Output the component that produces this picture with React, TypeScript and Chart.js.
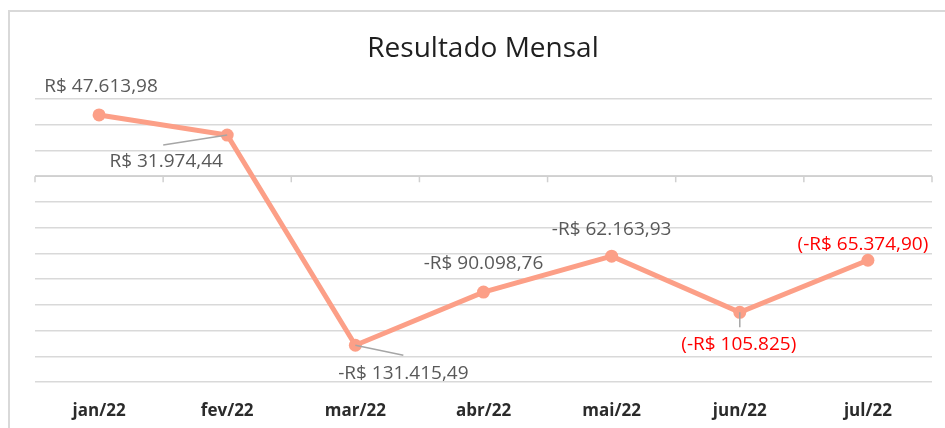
import React, { useEffect, useRef } from "react";
import { Chart, registerables } from "chart.js";

Chart.register(...registerables);

const chartTitle = "Resultado Mensal";
const categories = ["jan/22", "fev/22", "mar/22", "abr/22", "mai/22", "jun/22", "jul/22"];
const resultado = [47613.98, 31974.44, -131415.49, -90098.76, -62163.93, -105825, -65374.9];
const dataLabels = [
  "R$ 47.613,98",
  "R$ 31.974,44",
  "-R$ 131.415,49",
  "-R$ 90.098,76",
  "-R$ 62.163,93",
  "(-R$ 105.825)",
  "(-R$ 65.374,90)",
];
const labelRed = [false, false, false, false, false, true, true];
const yMin = -160000;
const yMax = 60000;
const yStep = 20000;

// placement of data labels relative to their point (style only)
const labelOffsets: [number, number][] = [
  [2, -28],
  [-61, 27],
  [48, 28],
  [0, -28],
  [0, -27],
  [-1, 32],
  [-5, -16],
];
const leaderEnds: ([number, number] | null)[] = [
  null,
  [-64, 10],
  [48, 10],
  null,
  null,
  [0, 15],
  null,
];

const FONT = '"Open Sans", "Liberation Sans", sans-serif';
const LINE_COLOR = "#fc9f87";

const decorPlugin = {
  id: "decor",
  beforeDraw(chart: any) {
    const ctx = chart.ctx;
    ctx.save();
    ctx.fillStyle = "#ffffff";
    ctx.fillRect(0, 0, chart.width, chart.height);
    ctx.strokeStyle = "#d9d9d9";
    ctx.lineWidth = 2;
    ctx.strokeRect(9, 11, chart.width + 50, chart.height + 50);
    ctx.fillStyle = "#1f1f1f";
    ctx.font = `28px ${FONT}`;
    ctx.textAlign = "center";
    ctx.textBaseline = "middle";
    ctx.fillText(chartTitle, 483, 49);
    ctx.restore();
  },
  beforeDatasetsDraw(chart: any) {
    const ctx = chart.ctx;
    const { left, right } = chart.chartArea;
    const y0 = chart.scales.y.getPixelForValue(0);
    const x = chart.scales.x;
    ctx.save();
    ctx.strokeStyle = "#d0d0d0";
    ctx.lineWidth = 1.5;
    ctx.beginPath();
    ctx.moveTo(left, y0);
    ctx.lineTo(right, y0);
    const n = categories.length;
    const half = (x.getPixelForValue(1) - x.getPixelForValue(0)) / 2;
    for (let i = 0; i <= n; i++) {
      const bx = i < n ? x.getPixelForValue(i) - half : right;
      ctx.moveTo(bx, y0);
      ctx.lineTo(bx, y0 + 6);
    }
    ctx.stroke();
    ctx.restore();
  },
  afterDatasetsDraw(chart: any) {
    const ctx = chart.ctx;
    const meta = chart.getDatasetMeta(0);
    ctx.save();
    meta.data.forEach((pt: any, i: number) => {
      const le = leaderEnds[i];
      if (le) {
        ctx.strokeStyle = "#a6a6a6";
        ctx.lineWidth = 1.5;
        ctx.beginPath();
        ctx.moveTo(pt.x, pt.y);
        ctx.lineTo(pt.x + le[0], pt.y + le[1]);
        ctx.stroke();
      }
    });
    ctx.font = `19px ${FONT}`;
    ctx.textAlign = "center";
    ctx.textBaseline = "middle";
    meta.data.forEach((pt: any, i: number) => {
      const [dx, dy] = labelOffsets[i];
      ctx.fillStyle = labelRed[i] ? "#ff0000" : "#595959";
      ctx.fillText(dataLabels[i], pt.x + dx, pt.y + dy);
    });
    ctx.restore();
  },
};

export default function App() {
  const canvasRef = useRef<HTMLCanvasElement | null>(null);

  useEffect(() => {
    let chart: Chart | null = null;
    let cancelled = false;
    const make = () => {
      if (cancelled || !canvasRef.current) return;
      chart = new Chart(canvasRef.current, {
        type: "line",
        data: {
          labels: categories,
          datasets: [
            {
              label: chartTitle,
              data: resultado,
              borderColor: LINE_COLOR,
              backgroundColor: LINE_COLOR,
              borderWidth: 5,
              pointRadius: 6.5,
              pointHoverRadius: 6.5,
              pointBackgroundColor: LINE_COLOR,
              pointBorderColor: LINE_COLOR,
              pointBorderWidth: 0,
              tension: 0,
              clip: false as any,
            },
          ],
        },
        options: {
          responsive: false,
          animation: false,
          devicePixelRatio: 1,
          layout: { padding: { top: 99, left: 35, right: 13, bottom: 0 } },
          plugins: {
            legend: { display: false },
            title: { display: false },
            tooltip: { enabled: false },
          },
          scales: {
            x: {
              type: "category",
              offset: true,
              grid: { display: false, drawTicks: false },
              border: { display: false },
              ticks: {
                padding: 19,
                color: "#2b2b2b",
                font: { family: FONT, size: 17, weight: "bold" },
                maxRotation: 0,
                autoSkip: false,
              },
              afterFit: (s: any) => {
                s.height = 46;
              },
            },
            y: {
              min: yMin,
              max: yMax,
              ticks: { display: false, stepSize: yStep },
              grid: { color: "#d9d9d9", lineWidth: 1.5, drawTicks: false },
              border: { display: false },
              afterFit: (s: any) => {
                s.width = 0;
              },
            },
          },
        },
        plugins: [decorPlugin],
      });
    };
    const fonts: any = (document as any).fonts;
    if (fonts && fonts.load) {
      Promise.all([
        fonts.load(`19px "Open Sans"`),
        fonts.load(`bold 17px "Open Sans"`),
      ]).then(make, make);
    } else {
      make();
    }
    return () => {
      cancelled = true;
      if (chart) chart.destroy();
    };
  }, []);

  return (
    <div style={{ position: "fixed", left: 0, top: 0, width: 945, height: 428, background: "#fff" }}>
      <canvas ref={canvasRef} width={945} height={428} style={{ display: "block", width: 945, height: 428 }} />
    </div>
  );
}
